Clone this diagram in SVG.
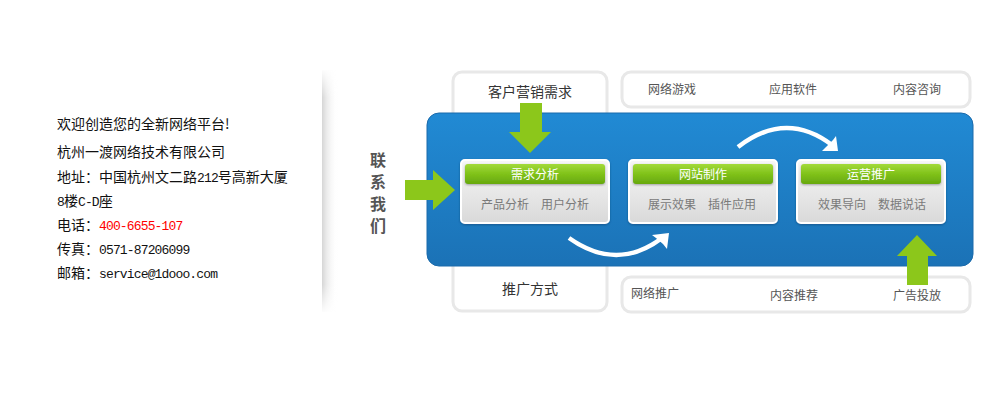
<svg xmlns="http://www.w3.org/2000/svg" width="1007" height="406" viewBox="0 0 1007 406">
<defs>
<style>
.cjk{font-family:"Noto Sans CJK SC","Noto Sans",sans-serif;}
.info{font-size:14px;fill:#111;}
.mono{font-family:"Liberation Mono","DejaVu Sans Mono",monospace;font-size:13px;letter-spacing:-0.85px;}
.gbox{fill:#fff;stroke:#e8e8e8;stroke-width:3;}
.lbl{font-size:12px;fill:#555;}
.big{font-size:14px;fill:#333;}
.title{font-size:12px;fill:#fff;text-anchor:middle;}
.sub{font-size:12px;fill:#7a7a7a;text-anchor:middle;}
.garrow{fill:#8cc71b;}
.warc{fill:none;stroke:#fff;stroke-width:4.5;}
</style>
<linearGradient id="blue" x1="0" y1="0" x2="0" y2="1">
<stop offset="0" stop-color="#218ad4"/>
<stop offset="1" stop-color="#1b72b6"/>
</linearGradient>
<linearGradient id="card" x1="0" y1="0" x2="0" y2="1">
<stop offset="0" stop-color="#f7f7f7"/>
<stop offset="1" stop-color="#d9d9d9"/>
</linearGradient>
<linearGradient id="green" x1="0" y1="0" x2="0" y2="1">
<stop offset="0" stop-color="#a3da3a"/>
<stop offset="0.5" stop-color="#80c21a"/>
<stop offset="1" stop-color="#66a80e"/>
</linearGradient>
<linearGradient id="sep" x1="0" y1="0" x2="1" y2="0">
<stop offset="0" stop-color="#d6d6d6"/>
<stop offset="0.25" stop-color="#e8e8e8"/>
<stop offset="1" stop-color="#ffffff" stop-opacity="0"/>
</linearGradient>
<linearGradient id="sepfade" x1="0" y1="0" x2="0" y2="1">
<stop offset="0" stop-color="#fff" stop-opacity="0"/>
<stop offset="0.12" stop-color="#fff" stop-opacity="1"/>
<stop offset="0.88" stop-color="#fff" stop-opacity="1"/>
<stop offset="1" stop-color="#fff" stop-opacity="0"/>
</linearGradient>
<mask id="sepmask"><rect x="320" y="68" width="20" height="246" fill="url(#sepfade)"/></mask>
<filter id="shadow" x="-10%" y="-20%" width="120%" height="150%">
<feDropShadow dx="0" dy="1" stdDeviation="1.2" flood-color="#0b3f6e" flood-opacity="0.6"/>
</filter>
<filter id="gshadow" x="-5%" y="-30%" width="110%" height="170%">
<feDropShadow dx="0" dy="1" stdDeviation="0.8" flood-color="#555" flood-opacity="0.5"/>
</filter>
</defs>

<rect width="1007" height="406" fill="#fff"/>

<!-- left info -->
<g id="info" class="cjk info">
<text x="57" y="129">欢迎创造您的全新网络平台!</text>
<text x="57" y="157">杭州一渡网络技术有限公司</text>
<text x="57" y="182">地址：中国杭州文二路<tspan class="mono">212</tspan>号高新大厦</text>
<text x="57" y="206"><tspan class="mono">8</tspan>楼<tspan class="mono">C-D</tspan>座</text>
<text x="57" y="230">电话：<tspan class="mono" fill="#f00">400-6655-107</tspan></text>
<text x="57" y="254">传真：<tspan class="mono">0571-87206099</tspan></text>
<text x="57" y="278">邮箱：<tspan class="mono">service@1dooo.com</tspan></text>
</g>

<!-- separator -->
<g id="separator">
<rect x="322" y="70" width="16" height="242" fill="url(#sep)" mask="url(#sepmask)"/>
</g>

<!-- contact label -->
<g id="contact" class="cjk" font-size="16" font-weight="bold" fill="#555" text-anchor="middle">
<text x="378" y="166">联</text>
<text x="378" y="188">系</text>
<text x="378" y="210">我</text>
<text x="378" y="232">们</text>
</g>

<!-- background boxes -->
<g id="box-left">
<rect class="gbox" x="453" y="72" width="154" height="239" rx="9"/>
<text class="cjk big" x="530" y="97" text-anchor="middle">客户营销需求</text>
<text class="cjk big" x="530" y="294" text-anchor="middle">推广方式</text>
</g>
<g id="box-top-right">
<rect class="gbox" x="622" y="72" width="348" height="35" rx="9"/>
<text class="cjk lbl" x="672" y="94" text-anchor="middle">网络游戏</text>
<text class="cjk lbl" x="793" y="94" text-anchor="middle">应用软件</text>
<text class="cjk lbl" x="917" y="94" text-anchor="middle">内容咨询</text>
</g>
<g id="box-bottom-right">
<rect class="gbox" x="622" y="277" width="348" height="35" rx="9"/>
<text class="cjk lbl" x="631" y="298">网络推广</text>
<text class="cjk lbl" x="794" y="300" text-anchor="middle">内容推荐</text>
<text class="cjk lbl" x="917" y="300" text-anchor="middle">广告投放</text>
</g>

<!-- blue panel -->
<g id="panel">
<rect x="427" y="113" width="546" height="153" rx="12" fill="url(#blue)" stroke="#1a6aab" stroke-width="1"/>
</g>

<!-- cards -->
<g id="card-1">
<rect x="461" y="160" width="148" height="63" rx="4" fill="url(#card)" stroke="#fff" stroke-width="2" filter="url(#shadow)"/>
<rect x="465" y="164" width="140" height="20" rx="3" fill="url(#green)" filter="url(#gshadow)"/>
<text class="cjk title" x="535" y="178.5">需求分析</text>
<text class="cjk sub" x="505" y="209">产品分析</text>
<text class="cjk sub" x="565" y="209">用户分析</text>
</g>
<g id="card-2">
<rect x="629" y="160" width="148" height="63" rx="4" fill="url(#card)" stroke="#fff" stroke-width="2" filter="url(#shadow)"/>
<rect x="633" y="164" width="140" height="20" rx="3" fill="url(#green)" filter="url(#gshadow)"/>
<text class="cjk title" x="703" y="178.5">网站制作</text>
<text class="cjk sub" x="672" y="209">展示效果</text>
<text class="cjk sub" x="732" y="209">插件应用</text>
</g>
<g id="card-3">
<rect x="797" y="160" width="148" height="63" rx="4" fill="url(#card)" stroke="#fff" stroke-width="2" filter="url(#shadow)"/>
<rect x="801" y="164" width="140" height="20" rx="3" fill="url(#green)" filter="url(#gshadow)"/>
<text class="cjk title" x="871" y="178.5">运营推广</text>
<text class="cjk sub" x="842" y="209">效果导向</text>
<text class="cjk sub" x="902" y="209">数据说话</text>
</g>

<!-- connectors -->
<g id="connectors">
<path class="warc" d="M738,147 Q786,110 832,145"/>
<polygon fill="#fff" points="838,151 822,151 826,147 833,140 836,136"/>
<path class="warc" d="M569,238 Q617,272 662,238"/>
<polygon fill="#fff" points="669,233 667,249 663,244 656,238 652,235"/>
<polygon class="garrow" points="520,103 542,103 542,132 551,132 530,153 509,132 520,132"/>
<polygon class="garrow" points="405,180 433,180 433,170 455,190 433,210 433,200 405,200"/>
<polygon class="garrow" points="907,285 928,285 928,256 937,256 917,235 897,256 907,256"/>
</g>
</svg>
